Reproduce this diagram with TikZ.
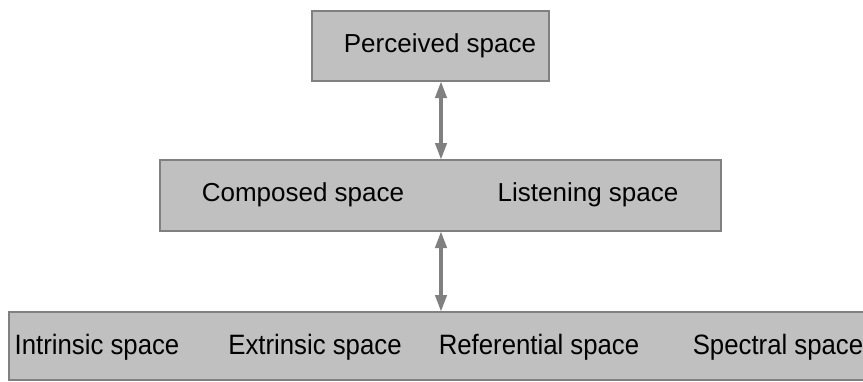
\documentclass[tikz,border=0pt]{standalone}
\usepackage{fontspec}
\setmainfont{Liberation Sans}
\usetikzlibrary{arrows.meta}
\definecolor{boxfill}{RGB}{192,192,192}
\definecolor{boxline}{RGB}{128,128,128}
\definecolor{arrcol}{RGB}{128,128,128}
\tikzset{
  box/.style={draw=boxline, fill=boxfill, line width=2pt, rectangle, inner sep=0pt},
  lbl/.style={font=\fontsize{26}{30}\selectfont, inner sep=0pt, text=black},
  lblb/.style={font=\fontsize{28}{32}\selectfont, inner sep=0pt, text=black, xscale=0.92},
  arr/.style={draw=arrcol, line width=4pt, {Triangle[length=17pt,width=11pt]}-{Triangle[length=17pt,width=11pt]}, shorten <=-1pt, shorten >=-1pt}
}
\begin{document}
\begin{tikzpicture}[x=1pt,y=-1pt]
\useasboundingbox (0,0) rectangle (863,381);
\clip (0,0) rectangle (863,381);
\node[box, minimum width=237pt, minimum height=70pt] (top) at (430.5,46) {};
\node[box, minimum width=561pt, minimum height=71pt] (mid) at (440.5,195.5) {};
\node[box, minimum width=870pt, minimum height=68pt] (bot) at (444,346) {};
\node[lbl] (perc) at (440,46) {Perceived space};
\node[lbl] (comp) at (303,195) {Composed space};
\node[lbl] (list) at (588,195) {Listening space};
\node[lblb] (intr) at (97,347) {Intrinsic space};
\node[lblb] (extr) at (315,347) {Extrinsic space};
\node[lblb] (refe) at (539,347) {Referential space};
\node[lblb] (spec) at (778,347) {Spectral space};
\coordinate (ax) at (441,0);
\draw[arr] (top.south -| ax) -- (mid.north -| ax);
\draw[arr] (mid.south -| ax) -- (bot.north -| ax);
\end{tikzpicture}
\end{document}
